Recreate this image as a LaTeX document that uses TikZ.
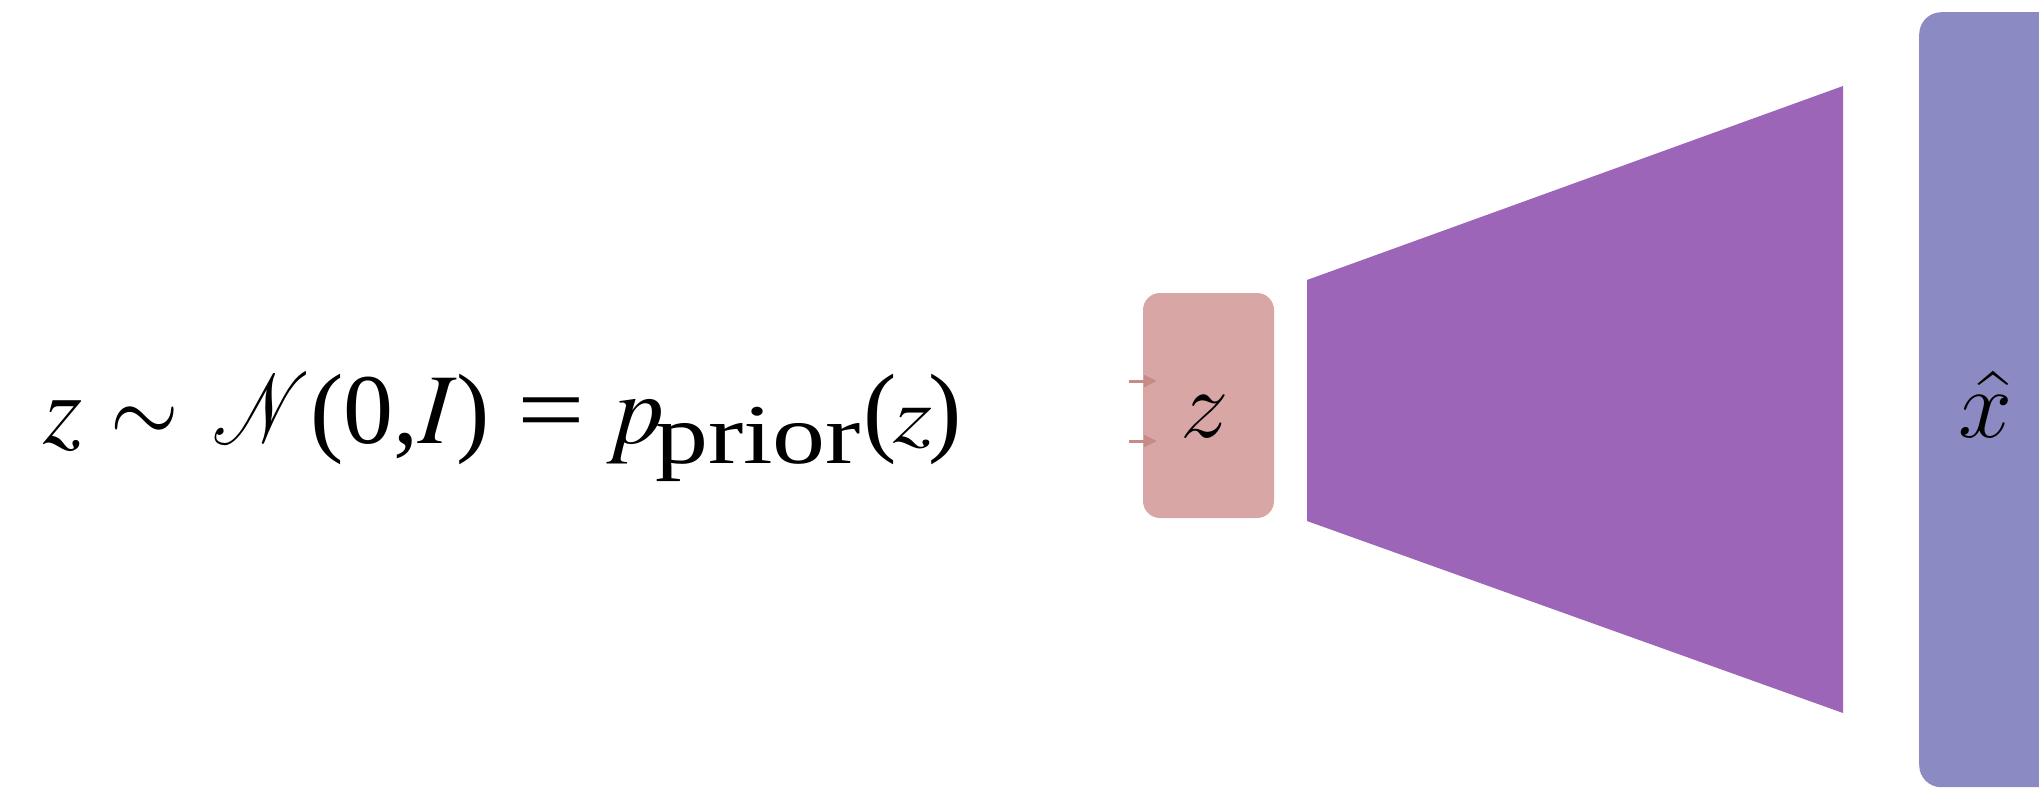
\RequirePackage{fix-cm}
\documentclass[tikz,border=0pt]{standalone}
\usepackage{mathptmx}
\usepackage[no-math]{fontspec}
\setmainfont{Liberation Serif}
\usepackage{graphicx}
\usetikzlibrary{arrows.meta}
\definecolor{zfill}{RGB}{216,166,164}
\definecolor{decfill}{RGB}{157,101,184}
\definecolor{xfill}{RGB}{140,138,194}
\definecolor{arrcol}{RGB}{200,138,134}
\newcommand{\cmfont}{\usefont{OML}{cmm}{m}{it}}
\newcommand{\hatfont}{\usefont{OT1}{cmr}{m}{n}}
\tikzset{
  bigfont/.style={font=\fontsize{100}{110}\selectfont, inner sep=0pt, outer sep=0pt},
  boxfont/.style={font=\fontsize{97}{100}\selectfont, inner sep=0pt, outer sep=0pt},
  zbox/.style={rectangle, rounded corners=17pt, fill=zfill, draw=none,
    minimum width=131pt, minimum height=225pt, inner sep=0pt},
  xbox/.style={rectangle, rounded corners=22pt, fill=xfill, draw=none,
    minimum width=200pt, minimum height=775pt, inner sep=0pt, anchor=north west},
  inarrow/.style={draw=arrcol, line width=3pt,
    -{Triangle[length=13pt,width=12pt]}, shorten >=-14pt},
}
\begin{document}
\begin{tikzpicture}[x=1pt,y=-1pt]
\useasboundingbox (0,0) rectangle (2039,796);
\clip (0,0) rectangle (2039,796);
\fill[white] (0,0) rectangle (2039,796);
% formula
\node[bigfont, anchor=base west] (formula) at (43,443) {%
\makebox[67pt][l]{$z$}%
\makebox[102pt][l]{\scalebox{0.88}[1]{$\sim$}}%
\makebox[98pt][l]{\scalebox{0.78}[1]{$\mathcal{N}$}}%
\makebox[207pt][l]{(0,$I$)}%
\makebox[90pt][l]{\scalebox{1.2}[1]{=}}%
\makebox[48pt][l]{$p$}%
\makebox[208pt][l]{\raisebox{-20pt}{\scalebox{1.06}[0.85]{prior}}}%
(\kern-3pt\raisebox{1pt}{\scalebox{1}[0.8]{$z$}}\kern-4pt)};
% latent box
\node[zbox] (zb) at (1208.5,405.5) {};
\node[boxfont, anchor=base west] (zlab) at (1180,437) {\cmfont z};
% input arrows
\coordinate (in1) at (1129,381);
\coordinate (in2) at (1129,441);
\draw[inarrow] (in1) -- (in1 -| zb.west);
\draw[inarrow] (in2) -- (in2 -| zb.west);
% decoder
\coordinate (d1) at (1307,280);
\coordinate (d2) at (1843,86);
\coordinate (d3) at (1843,713);
\coordinate (d4) at (1307,521);
\fill[decfill] (d1) -- (d2) -- (d3) -- (d4) -- cycle;
% output box
\node[xbox] (xb) at (1919,12) {};
\node[boxfont, anchor=base west] (xlab) at (1958,437)
  {\makebox[0pt][l]{\kern6pt\raisebox{-1pt}{\scalebox{1.3}[1]{\hatfont\char94}}}\cmfont x};
\end{tikzpicture}
\end{document}
